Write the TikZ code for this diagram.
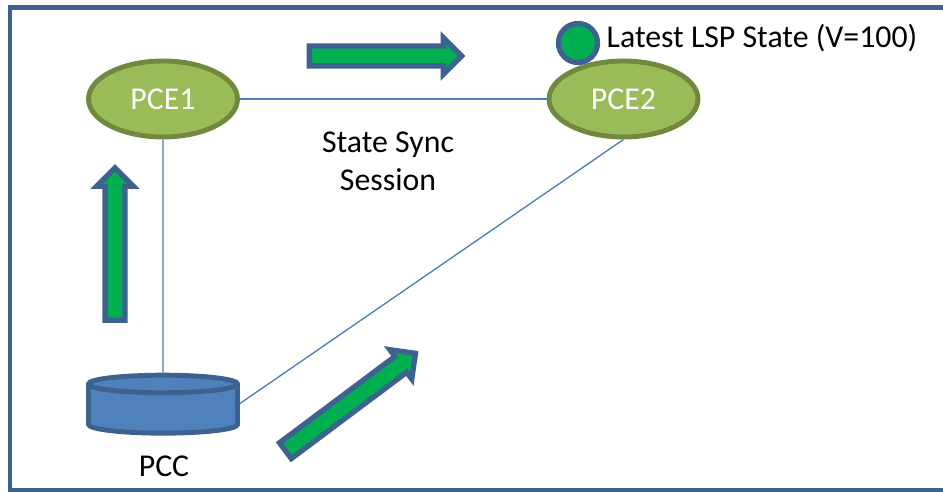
\documentclass[tikz,border=0pt]{standalone}
\usepackage{fontspec}
\setmainfont{Carlito}
\usepackage{tikz}
\usetikzlibrary{shapes.geometric, shapes.arrows}
\usepackage{xcolor}
\definecolor{FrameColor}{RGB}{62, 98, 144}
\definecolor{StateColor}{RGB}{0, 176, 80}
\definecolor{PceColor}{RGB}{155, 187, 89}
\definecolor{PceLine}{RGB}{113, 137, 63}
\definecolor{PccColor}{RGB}{79, 129, 189}
\definecolor{LinkColor}{RGB}{74, 126, 187}

\begin{document}
\begin{tikzpicture}[x=0.02cm, y=-0.02cm,
  every node/.style={font=\fontsize{18.1}{21.5}\selectfont},
  pce/.style={draw=PceLine, fill=PceColor, ellipse, line width=2.8pt, minimum width=2.98cm, minimum height=1.52cm, text=white},
  pcc/.style={draw=FrameColor, fill=PccColor, cylinder, shape border rotate=90, shape aspect=1.5, line width=2.8pt, minimum width=2.98cm, minimum height=1.16cm},
  link/.style={draw=LinkColor, line width=0.75pt},
  flow/.style={draw=FrameColor, fill=StateColor, single arrow, line width=3pt, inner sep=0pt, inner ysep=0.145cm, single arrow head extend=0.17cm, single arrow head indent=0pt}]

\useasboundingbox (0,0) rectangle (943,492);
\draw[FrameColor, line width=2.6pt] (10,7.5) rectangle (960,490);

\node[pce] (pce1) at (163,99) {PCE1};
\node[pce] (pce2) at (623.5,99) {PCE2};
\node[pcc] (pcc) at (163,411.5) {};
\node (pcclabel) at (164,466) {PCC};

\node[circle, draw=FrameColor, fill=StateColor, line width=3pt, minimum size=0.78cm, inner sep=0pt] (lsp) at (578,43) {};
\node (lsplabel) at (762,38) {Latest LSP State (V=100)};
\node[align=center] (sync) at (388,161) {State Sync\\Session};

\draw[link] (pce1) -- (pce2);
\draw[link] (pce1) -- (pcc);
\draw[link] (pce2.south) -- ([yshift=0.16cm]pcc.east);

\node[flow, minimum height=3.05cm] (flowtop) at (380.5,56) {};
\node[flow, minimum height=3.05cm, rotate=90] (flowleft) at (115,249) {};
\node[flow, minimum height=3.25cm, rotate=36.8] (flowdiag) at (346.5,405) {};

\end{tikzpicture}
\end{document}
